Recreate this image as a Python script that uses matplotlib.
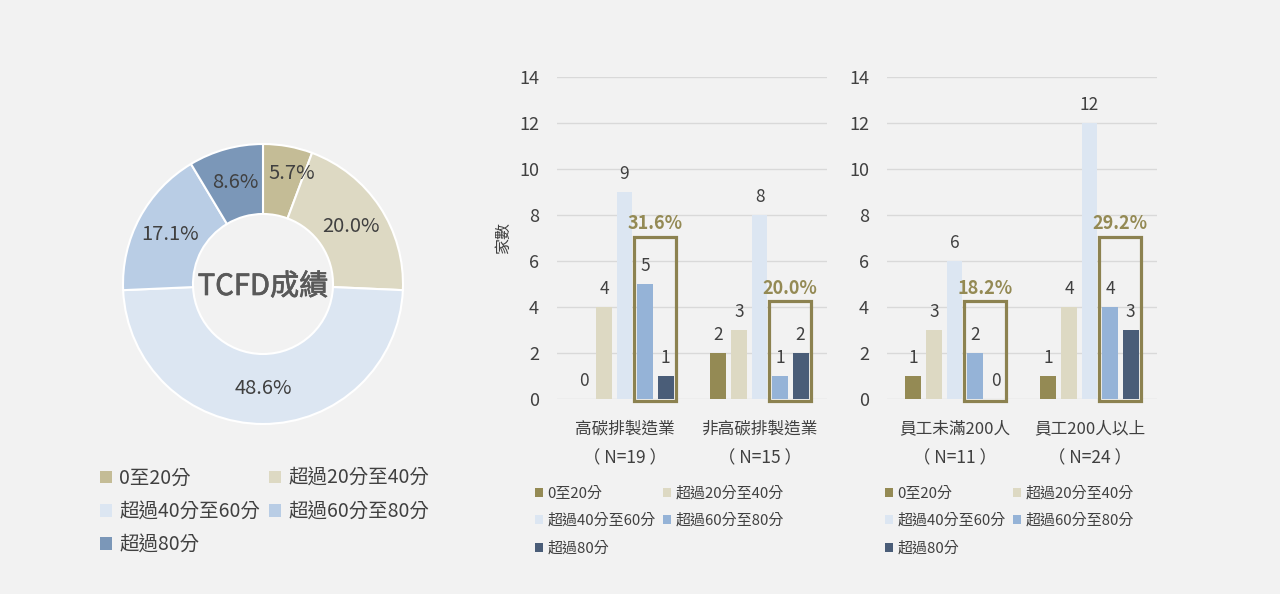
import matplotlib
matplotlib.use("Agg")
import matplotlib.pyplot as plt
import matplotlib.patheffects as pe
from matplotlib.patches import Patch, Rectangle

plt.rcParams['font.family'] = ['Noto Sans CJK TC', 'DejaVu Sans']

# ---------------- data ----------------
score_bands = ["0至20分", "超過20分至40分", "超過40分至60分", "超過60分至80分", "超過80分"]
pie_pct = [5.7, 20.0, 48.6, 17.1, 8.6]
pie_center_label = "TCFD成績"

chart1_categories = ["高碳排製造業", "非高碳排製造業"]
chart1_n = ["（ N=19 ）", "（ N=15 ）"]
chart1_values = [[0, 4, 9, 5, 1], [2, 3, 8, 1, 2]]
chart1_highlight = ["31.6%", "20.0%"]

chart2_categories = ["員工未滿200人", "員工200人以上"]
chart2_n = ["（ N=11 ）", "（ N=24 ）"]
chart2_values = [[1, 3, 6, 2, 0], [1, 4, 12, 4, 3]]
chart2_highlight = ["18.2%", "29.2%"]

y_ticks = [0, 2, 4, 6, 8, 10, 12, 14]
y_label = "家數"

# ---------------- style ----------------
BG = "#f2f2f2"
TXT = "#404040"
pie_colors = ["#c4bc96", "#ddd9c3", "#dce6f2", "#b9cde5", "#7b97b8"]
bar_colors = ["#948a54", "#ddd9c3", "#dce6f2", "#95b3d7", "#4a5d78"]
BOX = "#8c8250"
PCT = "#948a54"
# small nudges for pie labels (pie units) to avoid overlap, as in the reference
pie_label_nudge = [(0.07, 0.05), (0, 0), (0, 0), (0, 0), (0, 0)]

W, H = 1280, 594
fig = plt.figure(figsize=(W / 100, H / 100), dpi=100, facecolor=BG)

def fx(px):
    return px / W

def fy(py):
    return 1 - py / H

# ---------------- donut ----------------
cx, cy, half = 263, 284, 150
axp = fig.add_axes([fx(cx - half), fy(cy + half), 2 * half / W, 2 * half / H])
axp.set_facecolor(BG)
R = 140 / half
wedges, texts, autotexts = axp.pie(
    pie_pct, colors=pie_colors, startangle=90, counterclock=False,
    radius=R, autopct=lambda p: "", pctdistance=0.75,
    wedgeprops=dict(width=R * 0.5, edgecolor="white", linewidth=1.5))
for t, p, nd in zip(autotexts, pie_pct, pie_label_nudge):
    t.set_text(f"{p:.1f}%")
    t.set_fontsize(14.5)
    t.set_color(TXT)
    x, y = t.get_position()
    t.set_position((x + nd[0], y + nd[1]))
axp.text(0, -0.02, pie_center_label, ha="center", va="center", fontsize=21,
         color="#595959",
         path_effects=[pe.withStroke(linewidth=0.5, foreground="#595959")])
axp.set_xlim(-1, 1)
axp.set_ylim(-1, 1)
axp.set_aspect("equal")
axp.axis("off")

# pie legend
order = [0, 2, 4, 1, 3]
ph = [Patch(facecolor=pie_colors[i], edgecolor="none") for i in order]
pl = [score_bands[i] for i in order]
fig.legend(ph, pl, loc="upper left", bbox_to_anchor=(fx(100), fy(468)),
           ncol=2, frameon=False, fontsize=14, handlelength=0.6, handleheight=0.6,
           handletextpad=0.4, columnspacing=0.45, labelspacing=0.63,
           borderpad=0, borderaxespad=0, labelcolor=TXT)

# ---------------- bar charts ----------------
step = 0.152
bw = 0.118
pad = 0.022
box_tops = {0: [7.05, 4.25], 1: [4.25, 7.05]}

def bar_chart(left_px, cats, ns, values, highlights, idx, ylabel=None, leg_x=None):
    ax = fig.add_axes([fx(left_px), fy(399), 270 / W, (399 - 77) / H])
    ax.set_facecolor(BG)
    ax.set_ylim(0, 14)
    ax.set_xlim(-0.5, len(cats) - 0.5)
    ax.set_yticks(y_ticks)
    ax.yaxis.grid(True, color="#d9d9d9", linewidth=1)
    ax.set_axisbelow(True)
    for s in ax.spines.values():
        s.set_visible(False)
    ax.tick_params(axis="y", length=0, pad=13, labelsize=13, labelcolor=TXT)
    ax.set_xticks([])
    for c, vals in enumerate(values):
        for i, v in enumerate(vals):
            x = c + (i - 2) * step
            ax.bar(x, v, width=bw, color=bar_colors[i], zorder=2)
            ax.annotate(str(v), (x, v), xytext=(0, 13), textcoords="offset points",
                        ha="center", va="center", fontsize=12.5, color=TXT)
        x0 = c + 1 * step - bw / 2 - pad
        x1 = c + 2 * step + bw / 2 + pad
        top = box_tops[idx][c]
        ax.add_patch(Rectangle((x0, -0.08), x1 - x0, top + 0.08, fill=False,
                               edgecolor=BOX, linewidth=2.3, zorder=3, clip_on=False))
        ax.annotate(highlights[c], ((x0 + x1) / 2, top), xytext=(0, 9.5),
                    textcoords="offset points", ha="center", va="center",
                    fontsize=13, fontweight="bold", color=PCT)
        ax.annotate(cats[c], (c, 0), xytext=(0, -21.5), textcoords="offset points",
                    ha="center", va="center", fontsize=12, color=TXT, annotation_clip=False)
        ax.annotate(ns[c], (c, 0), xytext=(0, -43), textcoords="offset points",
                    ha="center", va="center", fontsize=12.5, color=TXT, annotation_clip=False)
    if ylabel:
        ax.set_ylabel(ylabel, fontsize=11.5, color=TXT, labelpad=5)
    hh = [Patch(facecolor=bar_colors[i], edgecolor="none") for i in order]
    hl = [score_bands[i] for i in order]
    fig.legend(hh, hl, loc="upper left", bbox_to_anchor=(fx(leg_x), fy(486)),
               ncol=2, frameon=False, fontsize=10.8, handlelength=0.55, handleheight=0.55,
               handletextpad=0.3, columnspacing=0.45, labelspacing=0.88,
               borderpad=0, borderaxespad=0, labelcolor=TXT)
    return ax

bar_chart(557, chart1_categories, chart1_n, chart1_values, chart1_highlight, 0,
          ylabel=y_label, leg_x=535)
bar_chart(887, chart2_categories, chart2_n, chart2_values, chart2_highlight, 1,
          leg_x=885)

fig.savefig("out.png", dpi=100, facecolor=BG)
